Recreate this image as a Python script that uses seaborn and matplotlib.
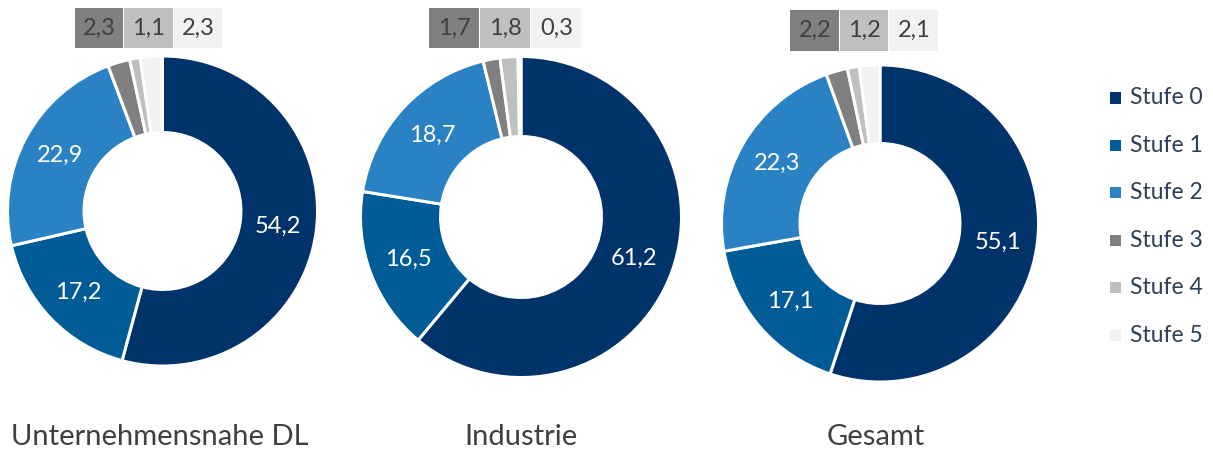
import numpy as np
import matplotlib
matplotlib.use("Agg")
import matplotlib.pyplot as plt
from matplotlib.patches import Rectangle
import seaborn as sns

# Shares (%) of each level per segment
stufen = ["Stufe 0", "Stufe 1", "Stufe 2", "Stufe 3", "Stufe 4", "Stufe 5"]
segmente = ["Unternehmensnahe DL", "Industrie", "Gesamt"]
werte_dl = [54.2, 17.2, 22.9, 2.3, 1.1, 2.3]
werte_industrie = [61.2, 16.5, 18.7, 1.7, 1.8, 0.3]
werte_gesamt = [55.1, 17.1, 22.3, 2.2, 1.2, 2.1]
farben = ["#00336A", "#005B96", "#2A81C4", "#808080", "#BFBFBF", "#F2F2F2"]

sns.set_theme(style="white")
plt.rcParams["font.family"] = ["Lato", "DejaVu Sans"]
palette = sns.color_palette(farben)

W, H = 1213, 450
fig = plt.figure(figsize=(W / 100, H / 100), dpi=100)
fig.patch.set_facecolor("white")

def fx(px):
    return px / W

def fy(py):
    return 1 - py / H

# ring geometry in pixels: centre x, centre y, outer radius, inner radius
ringe = [
    (162.5, 211.0, 153.5, 80.0),
    (521.0, 217.0, 159.0, 82.0),
    (880.0, 223.5, 157.0, 81.5),
]
# small-share boxes above each ring: left x, top y, box width, box height
boxen = [
    (75.0, 8.0, 49.3, 40.0),
    (429.0, 8.0, 51.0, 40.0),
    (790.0, 10.0, 49.7, 41.0),
]
titel_x = [160, 521, 876]

edge_px = 3.0
for werte, (cx, cy, R, r), (bx, by, bw, bh), name, tx in zip(
        [werte_dl, werte_industrie, werte_gesamt], ringe, boxen, segmente, titel_x):
    pad = 1.06
    ax = fig.add_axes([fx(cx - R * pad), fy(cy + R * pad), fx(2 * R * pad), 2 * R * pad / H])
    outer = (R + edge_px / 2) / R
    wedges, _ = ax.pie(
        werte, colors=palette, startangle=90, counterclock=False, radius=outer,
        wedgeprops=dict(width=(R - r + edge_px) / R, edgecolor="white", linewidth=edge_px * 0.72),
    )
    ax.set_xlim(-pad, pad)
    ax.set_ylim(-pad, pad)
    ax.set_aspect("equal")
    ax.axis("off")
    mid_r = (R + r) / 2 / R
    for w, v in zip(wedges[:3], werte[:3]):
        ang = np.deg2rad((w.theta1 + w.theta2) / 2)
        ax.text(mid_r * np.cos(ang), mid_r * np.sin(ang), f"{v:.1f}".replace(".", ","),
                ha="center", va="center", color="white", fontsize=17)
    # boxed labels for the small shares
    for i, v in enumerate(werte[3:]):
        x0 = bx + i * bw
        fig.add_artist(Rectangle((fx(x0), fy(by + bh)), fx(bw - 1), bh / H,
                                 transform=fig.transFigure, facecolor=farben[3 + i],
                                 edgecolor="none"))
        fig.text(fx(x0 + bw / 2), fy(by + bh / 2), f"{v:.1f}".replace(".", ","),
                 ha="center", va="center", color="#404040", fontsize=17)
    fig.text(fx(tx), fy(445), name, ha="center", va="baseline", color="#404040", fontsize=21)

# legend
for i, (s, c) in enumerate(zip(stufen, farben)):
    y = 98 + 47.4 * i
    fig.add_artist(Rectangle((fx(1109.5), fy(y + 5.5)), fx(11), 11 / H,
                             transform=fig.transFigure, facecolor=c, edgecolor="none"))
    fig.text(fx(1130), fy(y), s, ha="left", va="center", color="#2E3F55", fontsize=16.5)

fig.savefig("out.png", dpi=100, facecolor="white")
